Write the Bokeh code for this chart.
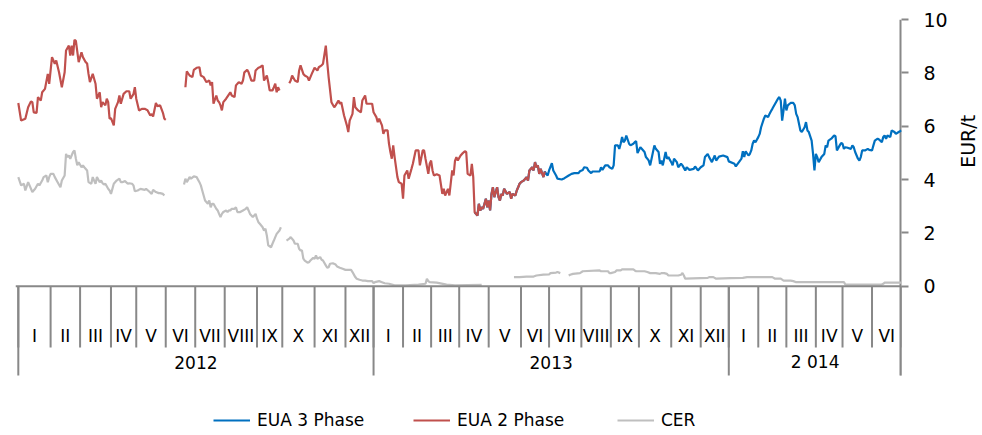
import numpy as np
from bokeh.plotting import figure
from bokeh.layouts import row
from bokeh.models import Range1d, LinearAxis, FixedTicker, Legend, LegendItem, Span, ColumnDataSource
from bokeh.embed import file_html
from bokeh.resources import INLINE
from bokeh.core.properties import value

nan = float("nan")

# trading days per month (Jan 2012 .. Jun 2014)
month_days = [23, 21, 22, 18, 21, 21, 21, 23, 18, 23, 22, 20,
              21, 20, 20, 21, 23, 20, 23, 21, 20, 23, 21, 20,
              21, 20, 21, 19, 21, 21]
month_labels = ["I", "II", "III", "IV", "V", "VI", "VII", "VIII", "IX", "X", "XI", "XII",
                "I", "II", "III", "IV", "V", "VI", "VII", "VIII", "IX", "X", "XI", "XII",
                "I", "II", "III", "IV", "V", "VI"]
year_labels = ["2012", "2013", "2 014"]
year_month_counts = [12, 12, 6]
y_ticks = [0, 2, 4, 6, 8, 10]
unit_label = "EUR/t"

# (trading day index, EUR/t)
EUA2 = [(0,6.87),(2,6.21),(5,6.28),(7,6.71),(9,6.93),(10,6.90),(11,6.52),(13,6.50),(14,7.09),(16,6.96),(17,7.27),(19,7.40),
        (21,7.96),(22,7.59),(24,8.59),(26,8.34),(27,8.46),(29,8.02),(31,7.46),(33,8.02),(34,8.84),(36,9.02),(37,8.65),(38,9.02),
        (39,8.65),(40,9.24),(41,9.20),(43,8.40),(45,8.77),(46,8.59),(48,8.40),(49,8.35),(50,7.96),(51,7.65),(53,7.96),(55,7.59),
        (56,7.03),(58,7.27),(59,6.71),(60,6.90),(62,6.78),(63,7.03),(64,6.90),(65,6.28),(66,6.30),(68,6.03),(69,6.65),(71,6.90),
        (72,7.15),(73,6.84),(75,7.21),(77,7.31),(79,7.31),(80,7.03),(82,7.20),(83,7.46),(84,7.03),(86,6.59),(88,6.65),(90,6.65),
        (92,6.60),(94,6.40),(95,6.45),(96,6.36),(98,6.87),(99,6.75),(101,6.78),(103,6.50),(104,6.28),(105,6.24),
        (112,nan),
        (119,7.46),(120,8.06),(122,7.90),(124,7.84),(125,8.11),(127,8.19),(129,8.21),(130,7.90),(132,7.84),(134,7.65),(136,7.71),
        (137,7.53),(138,7.65),(139,6.84),(141,7.15),(142,6.96),(143,6.90),(144,6.78),(145,6.59),(146,6.90),(148,7.03),(151,7.27),
        (152,7.15),(154,7.09),(155,7.53),(157,7.65),(159,7.59),(160,7.71),(161,8.02),(163,8.11),(164,8.02),(166,7.71),(168,7.71),
        (169,8.09),(171,8.19),(172,8.21),(174,8.28),(175,7.71),(177,7.90),(178,7.65),(179,7.34),(181,7.34),(182,7.46),(183,7.59),
        (184,7.27),(185,7.46),(186,7.34),
        (190,nan),
        (193,7.61),(194,7.71),(195,7.90),(197,7.71),(199,7.65),(200,8.09),(201,8.28),(203,7.96),(204,7.90),(206,7.84),(207,7.71),
        (209,7.96),(211,8.19),(213,8.09),(214,8.21),(216,8.28),(217,8.34),(219,9.02),(220,8.40),(221,7.84),(223,6.90),(225,6.71),
        (226,6.78),(228,6.96),(229,6.84),(230,6.90),(232,6.40),(234,6.03),(235,5.78),(236,6.21),(238,6.46),(239,7.09),(240,6.71),
        (242,6.59),(244,6.52),(245,6.96),(247,7.15),(248,6.84),(252,6.84),(253,6.52),(255,6.34),(256,6.15),(257,6.28),(259,6.03),
        (260,5.71),(261,5.84),(263,5.84),(264,5.34),(265,5.03),(266,4.78),(267,5.28),(268,4.84),(270,4.09),(271,3.90),(273,3.84),
        (274,3.28),(275,4.15),(277,4.34),(278,4.03),(280,4.40),(281,4.59),(283,5.09),(285,5.09),(286,4.53),(288,5.09),(289,5.09),
        (290,4.78),(292,4.21),(293,4.59),(294,4.71),(295,4.34),(296,4.15),(298,4.20),(300,4.15),(302,3.46),(303,3.65),(304,3.40),
        (306,3.65),(307,3.40),(309,4.34),(310,4.15),(311,4.70),(312,4.84),(313,4.71),(315,4.90),(316,4.96),(318,5.06),(319,5.03),
        (320,4.21),(322,4.15),(323,4.59),(324,4.09),(325,2.77),(327,2.65),(328,3.09),(329,2.84),(330,2.96),(331,2.90),(333,3.28),
        (334,2.96),(335,3.21),(336,2.84),(337,3.46),(338,3.71),(339,3.34),(341,3.71),(342,3.34),(343,3.21),(344,3.46),(345,3.40),
        (346,3.65),(348,3.46),(350,3.53),(351,3.28),(352,3.46),(354,3.40),(355,3.59),(356,3.71),(357,3.84),(358,3.90),(360,3.96),
        (362,4.09),(363,3.96),(364,4.34),(366,4.46),(367,4.34),(368,4.65),(369,4.46),(370,4.53),(371,4.21),(372,4.40),(374,4.09),
        (375,4.30)]

EUA3 = [(325,2.77),(327,2.65),(328,3.09),(329,2.84),(330,2.96),(331,2.90),(333,3.28),(334,2.96),(335,3.21),(336,2.84),
        (337,3.46),(338,3.71),(339,3.34),(341,3.71),(342,3.34),(343,3.21),(344,3.46),(345,3.40),(346,3.65),(348,3.46),(350,3.53),
        (351,3.28),(352,3.46),(354,3.40),(355,3.59),(356,3.71),(357,3.84),(358,3.90),(360,3.96),(362,4.09),(363,3.96),(364,4.34),
        (366,4.46),(367,4.34),(368,4.65),(369,4.46),(370,4.53),(371,4.21),(372,4.40),(374,4.09),(375,4.30),
        (376,4.21),(377,4.15),(378,4.34),(380,4.61),(381,4.34),(383,4.15),(384,4.03),(387,4.00),(389,4.05),(392,4.15),(394,4.21),
        (396,4.24),(399,4.24),(400,4.31),(402,4.36),(403,4.46),(405,4.44),(406,4.34),(408,4.24),(409,4.30),(412,4.30),(414,4.30),
        (415,4.46),(416,4.36),(418,4.53),(420,4.53),(421,4.46),(423,4.40),(424,4.53),(425,5.28),(427,5.28),(428,5.15),(429,5.34),
        (430,5.59),(431,5.40),(432,5.46),(433,5.65),(435,5.34),(436,5.28),(438,5.34),(439,5.40),(440,5.44),(441,4.99),(443,5.21),
        (444,5.15),(446,5.03),(447,4.84),(448,4.78),(449,4.71),(450,4.53),(451,4.78),(453,5.28),(454,5.15),(456,5.03),(457,4.59),
        (458,4.71),(459,4.53),(461,5.03),(462,4.78),(463,4.84),(465,4.65),(466,4.53),(467,4.78),(469,4.65),(470,4.46),(472,4.59),
        (473,4.53),(475,4.34),(476,4.46),(478,4.36),(481,4.40),(482,4.49),(484,4.34),(486,4.46),(488,4.53),(489,4.84),(491,4.96),
        (492,4.84),(494,4.65),(495,4.78),(496,4.90),(497,4.71),(499,4.86),(502,4.90),(505,4.84),(506,4.68),(510,4.59),(511,4.49),
        (514,4.71),(515,4.78),(516,5.06),(517,4.84),(518,5.06),(520,4.90),(521,4.96),(522,5.09),(523,5.34),(524,5.46),(525,5.40),
        (527,5.59),(528,5.71),(529,5.96),(531,6.28),(532,6.40),(534,6.34),(535,6.46),(536,6.56),(537,6.65),(539,6.84),(541,7.03),
        (542,7.09),(543,6.96),(544,6.21),(545,6.59),(546,7.03),(547,6.59),(548,6.78),(550,6.87),(552,6.87),(553,6.78),(554,6.46),
        (555,6.34),(557,5.84),(558,5.78),(560,5.96),(561,6.15),(562,5.84),(563,5.78),(565,5.46),(566,4.96),(567,4.34),(568,4.96),
        (569,4.84),(570,4.65),(572,4.84),(573,4.90),(574,4.96),(575,5.28),(576,5.21),(577,5.46),(579,5.53),(581,5.65),(582,5.62),
        (583,5.09),(585,5.28),(586,5.37),(587,5.34),(588,5.15),(589,5.21),(590,5.20),(593,5.15),(594,5.28),(595,5.21),(596,5.03),
        (598,4.78),(599,4.71),(600,4.84),(601,5.09),(603,5.09),(605,5.15),(606,5.11),(608,5.09),(609,5.28),(610,5.46),(612,5.53),
        (613,5.50),(615,5.40),(616,5.59),(617,5.65),(618,5.53),(619,5.65),(621,5.59),(622,5.84),(624,5.78),(625,5.71),(627,5.78),
        (629,5.84)]

CER = [(0,4.09),(2,3.78),(4,3.84),(5,3.59),(7,3.90),(8,3.78),(10,3.53),(12,3.65),(14,3.84),(15,3.78),(17,3.96),(18,4.09),
       (20,4.15),(21,3.90),(22,4.09),(23,4.21),(25,4.21),(26,4.09),(28,3.90),(30,3.71),(31,3.96),(33,4.15),(34,4.96),(35,4.84),
       (36,4.90),(37,4.78),(39,5.03),(40,5.09),(41,4.78),(42,4.53),(43,4.65),(45,4.46),(46,4.53),(47,4.46),(49,4.34),(50,3.90),
       (52,3.84),(53,4.09),(54,3.96),(55,3.84),(56,4.09),(58,3.90),(59,3.96),(60,3.86),(61,3.81),(62,3.84),(64,3.65),(65,3.59),
       (66,3.46),(67,3.65),(68,3.84),(70,3.96),(72,4.03),(73,3.90),(74,3.90),(76,3.94),(78,3.84),(79,3.86),(81,3.84),(82,3.78),
       (83,3.56),(85,3.59),(87,3.65),(90,3.61),(91,3.65),(93,3.56),(95,3.46),(96,3.61),(98,3.53),(100,3.49),(101,3.49),(103,3.46),
       (104,3.40),
       (110,nan),
       (118,3.81),(119,4.03),(120,3.90),(122,4.09),(123,4.03),(125,4.12),(127,4.09),(129,3.90),(130,3.78),(131,3.59),(132,3.40),
       (133,3.21),(135,3.09),(136,3.21),(137,2.96),(138,3.09),(139,3.09),(141,2.90),(142,2.84),(143,2.71),(144,2.59),(145,2.71),
       (146,2.78),(148,2.84),(149,2.78),(150,2.84),(151,2.84),(152,2.90),(154,2.90),(155,2.96),(156,2.78),(158,2.78),(160,2.84),
       (162,2.90),(163,2.96),(164,2.84),(165,2.71),(167,2.59),(168,2.65),(169,2.71),(170,2.53),(171,2.40),(172,2.34),(174,2.21),
       (175,2.09),(176,2.15),(177,1.90),(178,1.53),(180,1.46),(181,1.59),(182,1.71),(183,1.84),(184,1.96),(186,2.09),(187,2.21),
       (189,nan),
       (191,1.71),(193,1.78),(194,1.84),(196,1.71),(197,1.59),(199,1.59),(200,1.40),(201,1.34),(202,1.34),(203,1.03),(204,0.96),
       (206,0.88),(207,0.90),(208,0.96),(210,1.06),(211,1.03),(212,1.15),(213,1.03),(215,1.09),(216,0.99),(217,0.96),(219,0.78),
       (220,0.69),(221,0.71),(222,0.84),(224,0.86),(226,0.81),(227,0.74),(229,0.69),(231,0.65),(233,0.61),(235,0.61),(237,0.61),
       (238,0.53),(240,0.34),(241,0.28),(243,0.24),(245,0.21),(247,0.21),(249,0.19),(252,0.19),(253,0.11),(254,0.15),(257,0.19),
       (259,0.15),(261,0.11),(264,0.09),(268,0.03),(276,0.03),(285,0.06),(290,0.09),(291,0.28),(292,0.19),(293,0.15),(298,0.13),
       (305,0.06),(311,0.03),(320,0.04),(330,0.05),
       (340,nan),
       (353,0.34),(357,0.34),(362,0.36),(367,0.36),(369,0.40),(374,0.43),(378,0.44),(379,0.49),(383,0.51),(384,0.53),(386,0.49),
       (389,nan),
       (392,0.40),(393,0.43),(395,0.46),(400,0.49),(402,0.56),(414,0.59),(415,0.56),(420,0.56),(421,0.49),(422,0.49),(425,0.53),
       (426,0.59),(429,0.59),(430,0.63),(438,0.63),(439,0.59),(440,0.56),(446,0.56),(448,0.53),(450,0.49),(454,0.49),(457,0.46),
       (458,0.49),(460,0.49),(462,0.46),(463,0.40),(470,0.40),(472,0.43),(473,0.49),(474,0.40),(475,0.28),(491,0.31),(492,0.34),
       (495,0.34),(497,0.28),(507,0.30),(516,0.31),(519,0.34),(537,0.34),(539,0.28),(543,0.28),(545,0.21),(550,0.21),(552,0.19),
       (554,0.15),(588,0.15),(589,0.06),(615,0.06),(616,0.09),(617,0.13),(629,0.13)]

# ---------------- styling / layout ----------------
FONT = "DejaVu Sans"
FS = "17px"
FS_LEG = "17px"
FS_AXIS = "19px"
GREY = "#888888"
C_EUA3 = "#0070C0"
C_EUA2 = "#C0504D"
C_CER = "#BFBFBF"
LW = 2.2

Y_MONTH_LBL = -1.85
Y_MONTH_SEP = -2.30
Y_YEAR_LBL = -2.86
Y_YEAR_SEP = -3.35
Y_BOTTOM = -5.60
Y_UNIT_LBL = 5.43
LEFT_PAD = 2
H = 435
TOP = 19
W_SIDE = 32

bounds = np.concatenate([[0], np.cumsum(month_days)]).astype(float)
total = bounds[-1]
mids = (bounds[:-1] + bounds[1:]) / 2
yidx = np.concatenate([[0], np.cumsum(year_month_counts)])
ybounds = bounds[yidx]
ymids = (ybounds[:-1] + ybounds[1:]) / 2


def src(pairs):
    a = np.array(pairs, dtype=float)
    return ColumnDataSource(dict(x=a[:, 0], y=a[:, 1]))


p = figure(width=982 - W_SIDE, height=H, output_backend="svg", toolbar_location=None,
           x_range=Range1d(-LEFT_PAD, total), y_range=Range1d(Y_BOTTOM, 10),
           x_axis_location=None, y_axis_location=None,
           min_border_left=15, min_border_right=982 - W_SIDE - 903, min_border_top=TOP, min_border_bottom=0)
p.outline_line_color = None
p.grid.visible = False

ax = LinearAxis(ticker=FixedTicker(ticks=y_ticks))
ax.axis_line_color = None
ax.major_tick_out = 7
ax.major_tick_in = 0
ax.minor_tick_out = 0
ax.minor_tick_in = 0
ax.major_tick_line_color = GREY
ax.major_tick_line_width = 2
ax.major_label_standoff = 15
ax.major_label_text_font = FONT
ax.major_label_text_font_size = FS_AXIS
ax.major_label_text_color = "#000000"
p.add_layout(ax, "right")

# category axis structure (months / years) below the zero line
p.add_layout(Span(location=0, dimension="width", line_color=GREY, line_width=2))
p.segment(x0=bounds, y0=0, x1=bounds, y1=Y_MONTH_SEP, line_color=GREY, line_width=2)
p.segment(x0=ybounds, y0=0, x1=ybounds, y1=Y_YEAR_SEP, line_color=GREY, line_width=2)
p.segment(x0=[total], y0=[Y_YEAR_SEP], x1=[total], y1=[10], line_color=GREY, line_width=4)

p.text(x=mids, y=[Y_MONTH_LBL] * len(mids), text=month_labels, text_font=value(FONT),
       text_font_size=FS, text_align="center", text_baseline="middle", text_color="#000000")
p.text(x=ymids, y=[Y_YEAR_LBL] * len(ymids), text=year_labels, text_font=value(FONT),
       text_font_size=FS, text_align="center", text_baseline="middle", text_color="#000000")

r_cer = p.line("x", "y", source=src(CER), line_color=C_CER, line_width=LW)
r_eua3 = p.line("x", "y", source=src(EUA3), line_color=C_EUA3, line_width=LW)
r_eua2 = p.line("x", "y", source=src(EUA2), line_color=C_EUA2, line_width=LW)

for name, rend, xoff in [("EUA 3 Phase", r_eua3, 198), ("EUA 2 Phase", r_eua2, 398), ("CER", r_cer, 602)]:
    lg = Legend(items=[LegendItem(label=name, renderers=[rend])], location=(xoff, 5),
                padding=0, margin=0, spacing=0, glyph_width=37, glyph_height=18, label_standoff=7,
                border_line_color=None, background_fill_alpha=0,
                label_text_font=FONT, label_text_font_size=FS_LEG, label_text_color="#000000")
    p.add_layout(lg)

# narrow companion panel carrying the rotated unit title of the right axis
p2 = figure(width=W_SIDE, height=H, output_backend="svg", toolbar_location=None,
            x_range=Range1d(0, 1), y_range=Range1d(Y_BOTTOM, 10),
            x_axis_location=None, y_axis_location=None,
            min_border_left=0, min_border_right=0, min_border_top=TOP, min_border_bottom=0)
p2.outline_line_color = None
p2.grid.visible = False
p2.text(x=[0.55], y=[Y_UNIT_LBL], text=[unit_label], angle=np.pi / 2, text_font=value(FONT),
        text_font_size=FS_AXIS, text_align="center", text_baseline="middle", text_color="#000000")

open("out.html", "w").write(file_html(row(p, p2), INLINE))
